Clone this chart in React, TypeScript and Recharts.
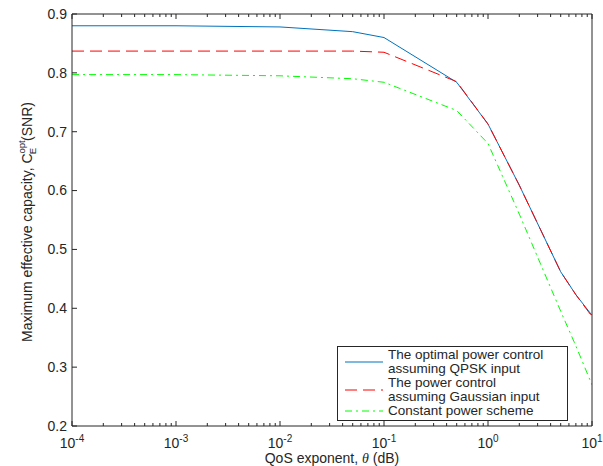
import { LineChart, Line, XAxis, YAxis, Legend } from 'recharts'

const THETA = [1e-4, 1e-3, 1e-2, 0.05, 0.1, 0.5, 1, 2, 5, 7, 10]
const QPSK_OPT = [0.88, 0.88, 0.878, 0.87, 0.86, 0.784, 0.713, 0.609, 0.462, 0.423, 0.388]
const GAUSS = [0.837, 0.837, 0.837, 0.837, 0.835, 0.785, 0.713, 0.609, 0.462, 0.423, 0.386]
const CONST_POWER = [0.797, 0.797, 0.795, 0.79, 0.784, 0.736, 0.68, 0.56, 0.395, 0.336, 0.27]

const X_DECADES = [1e-4, 1e-3, 1e-2, 1e-1, 1, 10]
const X_MINOR_STEPS = [2, 3, 4, 5, 6, 7, 8, 9]
const Y_TICKS = [0.2, 0.3, 0.4, 0.5, 0.6, 0.7, 0.8, 0.9]

const SERIES = [
  { key: 'qpsk', name: 'The optimal power control\nassuming QPSK input', color: '#0072BD', dash: undefined as string | undefined },
  { key: 'gauss', name: 'The power control\nassuming Gaussian input', color: '#FF0000', dash: '12 6' },
  { key: 'cst', name: 'Constant power scheme', color: '#00FF00', dash: '7 4 2 4' },
]

const data = THETA.map((t, i) => ({ theta: t, qpsk: QPSK_OPT[i], gauss: GAUSS[i], cst: CONST_POWER[i] }))

const xTicks = [
  ...X_DECADES,
  ...X_DECADES.slice(0, -1).flatMap((d) => X_MINOR_STEPS.map((k) => k * d)),
].sort((a, b) => a - b)

const AXIS = '#262626'
const FONT = "'Liberation Sans', Arial, Helvetica, sans-serif"

const isDecade = (v: number) => Math.abs(Math.log10(v) - Math.round(Math.log10(v))) < 1e-6

const BottomTick = ({ x, y, payload }: any) => {
  const v = payload.value
  const major = isDecade(v)
  return (
    <g>
      <line x1={x} x2={x} y1={y} y2={y - (major ? 5 : 3)} stroke={AXIS} />
      {major && (
        <text x={x} y={y + 22} textAnchor="middle" fontSize={14} fill={AXIS} fontFamily={FONT}>
          10<tspan dy={-6} fontSize={10}>{Math.round(Math.log10(v))}</tspan>
        </text>
      )}
    </g>
  )
}

const TopTick = ({ x, y, payload }: any) => {
  const major = isDecade(payload.value)
  return <line x1={x} x2={x} y1={y} y2={y + (major ? 5 : 3)} stroke={AXIS} />
}

const LeftTick = ({ x, y, payload }: any) => (
  <g>
    <line x1={x} x2={x + 5} y1={y} y2={y} stroke={AXIS} />
    <text x={x - 5} y={y} dy="0.35em" textAnchor="end" fontSize={14} fill={AXIS} fontFamily={FONT}>
      {payload.value.toFixed(1)}
    </text>
  </g>
)

const RightTick = ({ x, y }: any) => <line x1={x} x2={x - 5} y1={y} y2={y} stroke={AXIS} />

const YTitle = ({ viewBox }: any) => {
  const cx = viewBox.x + viewBox.width - 40
  const cy = viewBox.y + viewBox.height / 2 + 2
  return (
    <text x={cx} y={cy} transform={`rotate(-90 ${cx} ${cy})`} textAnchor="middle" fontSize={14} fill={AXIS} fontFamily={FONT}>
      Maximum effective capacity, C
      <tspan dy={-7} fontSize={9.5}>opt</tspan>
      <tspan dx={-14} dy={11} fontSize={9.5}>E</tspan>
      <tspan dx={7} dy={-4}>(SNR)</tspan>
    </text>
  )
}

const XTitle = ({ viewBox }: any) => (
  <text x={viewBox.x + viewBox.width / 2} y={viewBox.y + 37} textAnchor="middle" fontSize={14} fill={AXIS} fontFamily={FONT}>
    QoS exponent, <tspan fontFamily="'Liberation Serif', serif" fontStyle="italic">θ</tspan> (dB)
  </text>
)

const LegendBox = () => (
  <div
    style={{
      boxSizing: 'border-box',
      width: 231,
      height: 75,
      border: `1px solid ${AXIS}`,
      background: '#fff',
      padding: '1px 0 0 7px',
      fontFamily: FONT,
      fontSize: 13.5,
      lineHeight: '14px',
      color: AXIS,
    }}
  >
    {SERIES.map((s) => {
      const lines = s.name.split('\n')
      const h = lines.length * 14
      return (
        <div key={s.key} style={{ display: 'flex', alignItems: 'center' }}>
          <svg width={38} height={h} style={{ display: 'block' }}>
            <line x1={0} x2={38} y1={h / 2} y2={h / 2} stroke={s.color} strokeWidth={1} strokeDasharray={s.dash} />
          </svg>
          <div style={{ marginLeft: 5, whiteSpace: 'pre' }}>{s.name}</div>
        </div>
      )
    })}
  </div>
)

export default function App() {
  return (
    <div style={{ position: 'absolute', left: 0, top: 0, background: '#fff' }}>
      <LineChart width={603} height={466} data={data} margin={{ top: 13, right: 10, bottom: 0, left: 0 }}>
        <XAxis
          dataKey="theta"
          type="number"
          scale="log"
          domain={[1e-4, 10]}
          ticks={xTicks}
          interval={0}
          allowDataOverflow
          height={40}
          tickSize={0}
          tickMargin={0}
          tick={<BottomTick />}
          tickLine={false}
          axisLine={{ stroke: AXIS }}
          label={{ content: <XTitle /> } as any}
        />
        <XAxis
          xAxisId="top"
          orientation="top"
          dataKey="theta"
          type="number"
          scale="log"
          domain={[1e-4, 10]}
          ticks={xTicks}
          interval={0}
          allowDataOverflow
          height={1}
          tickSize={0}
          tickMargin={0}
          tick={<TopTick />}
          tickLine={false}
          axisLine={{ stroke: AXIS }}
        />
        <YAxis
          type="number"
          domain={[0.2, 0.9]}
          ticks={Y_TICKS}
          interval={0}
          width={72}
          tickSize={0}
          tickMargin={0}
          tick={<LeftTick />}
          tickLine={false}
          axisLine={{ stroke: AXIS }}
          label={{ content: <YTitle /> } as any}
        />
        <YAxis
          yAxisId="right"
          orientation="right"
          type="number"
          domain={[0.2, 0.9]}
          ticks={Y_TICKS}
          interval={0}
          width={1}
          tickSize={0}
          tickMargin={0}
          tick={<RightTick />}
          tickLine={false}
          axisLine={{ stroke: AXIS }}
        />
        {SERIES.map((s) => (
          <Line
            key={s.key}
            type="linear"
            dataKey={s.key}
            name={s.name}
            stroke={s.color}
            strokeWidth={1}
            strokeDasharray={s.dash}
            dot={false}
            isAnimationActive={false}
          />
        ))}
        <Legend
          layout="vertical"
          align="center"
          verticalAlign="middle"
          wrapperStyle={{ left: 337, top: 346, width: 231, height: 75 }}
          content={<LegendBox />}
        />
      </LineChart>
    </div>
  )
}
